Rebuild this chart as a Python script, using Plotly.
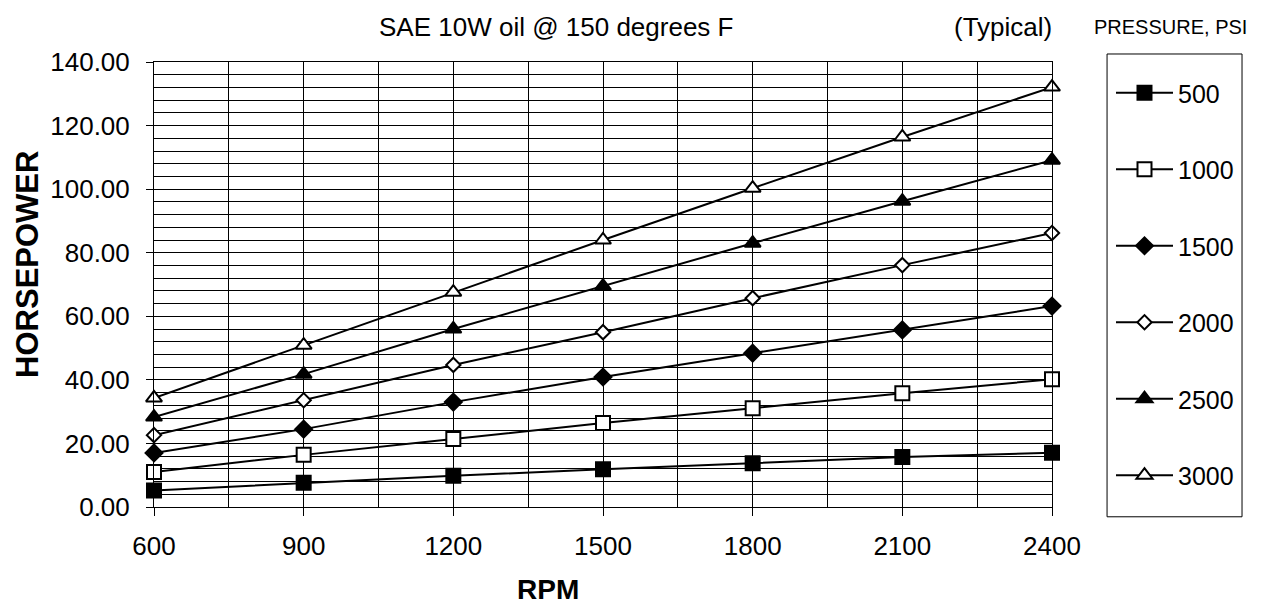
import plotly.graph_objects as go

# RPM vs horsepower, one series per pressure (psi)
rpm = [600, 900, 1200, 1500, 1800, 2100, 2400]
hp_500 = [5.2, 7.6, 9.8, 11.9, 13.8, 15.7, 17.1]
hp_1000 = [11.0, 16.4, 21.4, 26.4, 31.1, 35.8, 40.2]
hp_1500 = [17.0, 24.5, 33.0, 40.9, 48.4, 55.7, 63.2]
hp_2000 = [22.6, 33.6, 44.7, 55.0, 65.7, 76.1, 86.2]
hp_2500 = [28.3, 41.8, 56.0, 69.5, 83.0, 96.2, 109.1]
hp_3000 = [34.3, 50.9, 67.6, 84.0, 100.3, 116.4, 132.1]
pressures = ['500', '1000', '1500', '2000', '2500', '3000']

series = [hp_500, hp_1000, hp_1500, hp_2000, hp_2500, hp_3000]
symbols = ['square', 'square', 'diamond', 'diamond', 'triangle-up', 'triangle-up']
fills = ['black', 'white', 'black', 'white', 'black', 'white']
sizes = [14, 14, 13, 11, 14, 14]

FONT = 'Liberation Sans, Arial, sans-serif'

fig = go.Figure()
for name, ys, sym, fc, sz in zip(pressures, series, symbols, fills, sizes):
    fig.add_trace(go.Scatter(
        x=rpm, y=ys, mode='lines+markers', name=name,
        legendgroup=name,
        line=dict(color='black', width=2),
        marker=dict(symbol=sym, size=sz, color=fc,
                    line=dict(color='black', width=2)),
        cliponaxis=False,
    ))

# page body has an 8px margin, so the figure is 8px smaller than the window
fig.update_layout(
    width=1258, height=600,
    margin=dict(l=146, r=214, t=54, b=101, autoexpand=False),
    paper_bgcolor='white', plot_bgcolor='white',
    font=dict(family=FONT, color='black', size=26),
    showlegend=True,
    legend=dict(
        x=1.0657, y=0.982, xanchor='left', yanchor='top',
        font=dict(size=25), tracegroupgap=41, itemwidth=57,
        maxheight=580,
        bgcolor='rgba(0,0,0,0)', borderwidth=0,
    ),
    xaxis=dict(
        range=[600, 2400], dtick=300, tick0=600,
        showgrid=True, gridcolor='black', gridwidth=1,
        minor=dict(dtick=150, showgrid=True, gridcolor='black', gridwidth=1),
        showline=True, linecolor='black', linewidth=1, mirror=True,
        ticks='outside', ticklen=8, tickcolor='black',
        tickfont=dict(size=26), ticklabelstandoff=8, zeroline=False,
    ),
    yaxis=dict(
        range=[0, 140], dtick=20, tickformat='.2f',
        showgrid=True, gridcolor='black', gridwidth=1,
        minor=dict(dtick=4, showgrid=True, gridcolor='black', gridwidth=1),
        showline=True, linecolor='black', linewidth=1, mirror=True,
        ticks='outside', ticklen=7, tickcolor='black',
        tickfont=dict(size=26), ticklabelstandoff=11, zeroline=False,
    ),
    shapes=[dict(type='rect', xref='paper', yref='paper',
                 x0=1.0613, x1=1.2116, y0=-0.022, y1=1.018,
                 line=dict(color='black', width=1))],
    annotations=[
        dict(text='SAE 10W oil @ 150 degrees F', xref='paper', yref='paper',
             x=0.4477, y=1.0787, xanchor='center', yanchor='middle',
             showarrow=False, font=dict(size=26)),
        dict(text='(Typical)', xref='paper', yref='paper',
             x=0.945, y=1.0787, xanchor='center', yanchor='middle',
             showarrow=False, font=dict(size=26)),
        dict(text='PRESSURE, PSI', xref='paper', yref='paper',
             x=1.1325, y=1.0787, xanchor='center', yanchor='middle',
             showarrow=False, font=dict(size=20)),
        dict(text='<b>HORSEPOWER</b>', xref='paper', yref='paper',
             x=-0.1403, y=0.544, xanchor='center', yanchor='middle',
             textangle=-90, showarrow=False, font=dict(size=31)),
        dict(text='<b>RPM</b>', xref='paper', yref='paper',
             x=0.439, y=-0.1865, xanchor='center', yanchor='middle',
             showarrow=False, font=dict(size=28)),
    ],
)

fig.write_html('out.html')
